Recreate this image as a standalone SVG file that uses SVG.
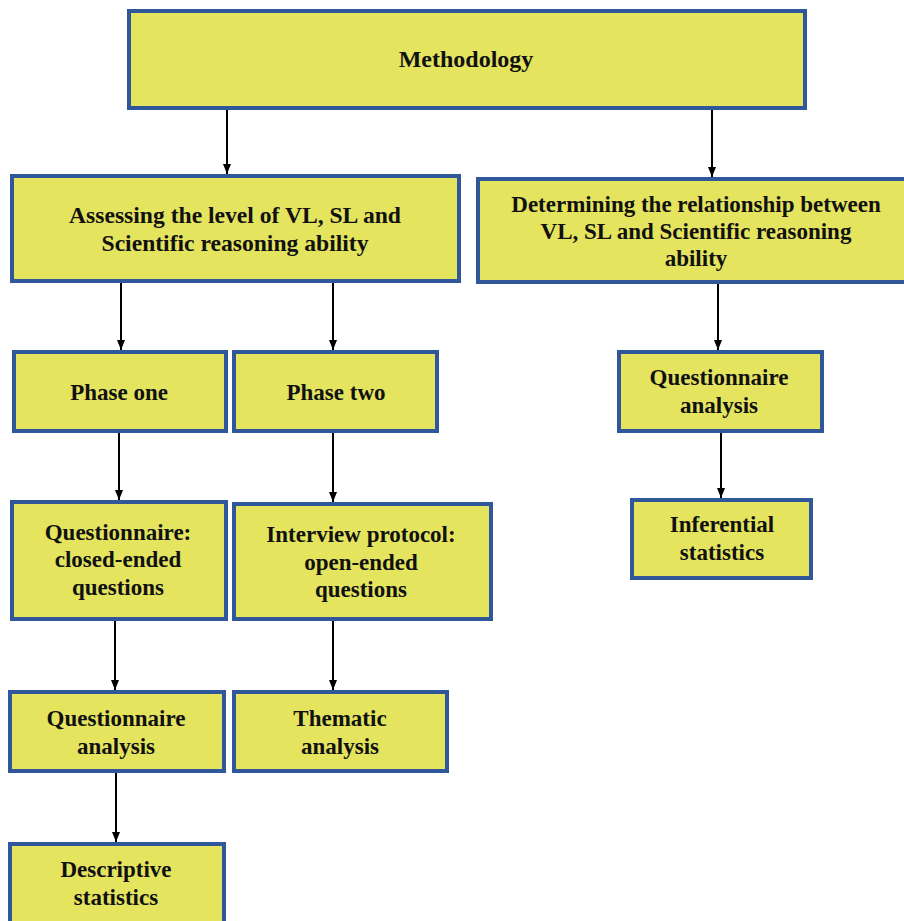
<svg xmlns="http://www.w3.org/2000/svg" width="904" height="921" viewBox="0 0 904 921">
  <style>
    .box { fill: #e4e45f; stroke: #30579a; stroke-width: 4; }
    .lbl { font-family: "Liberation Serif", "Times New Roman", serif; font-size: 23px; font-weight: bold; fill: #111; text-anchor: middle; }
    .title { font-size: 24px; }
    .wide { font-size: 23.6px; }
    .edge { stroke: #000; stroke-width: 2; fill: none; marker-end: url(#arrow); }
  </style>
  <defs>
    <marker id="arrow" markerUnits="userSpaceOnUse" markerWidth="10" markerHeight="10" viewBox="0 0 10 10" refX="10" refY="5" orient="auto">
      <path d="M0,1 L10,5 L0,9 Z" fill="#000"/>
    </marker>
  </defs>
  <rect width="904" height="921" fill="#fff"/>

  <!-- connectors -->
  <g id="connectors">
    <line class="edge" x1="227" y1="110" x2="227" y2="174"/>
    <line class="edge" x1="712" y1="110" x2="712" y2="177"/>
    <line class="edge" x1="121" y1="283" x2="121" y2="350"/>
    <line class="edge" x1="333" y1="283" x2="333" y2="350"/>
    <line class="edge" x1="718" y1="284" x2="718" y2="350"/>
    <line class="edge" x1="119" y1="433" x2="119" y2="500"/>
    <line class="edge" x1="333" y1="433" x2="333" y2="502"/>
    <line class="edge" x1="721" y1="433" x2="721" y2="498"/>
    <line class="edge" x1="115" y1="621" x2="115" y2="690"/>
    <line class="edge" x1="333" y1="621" x2="333" y2="690"/>
    <line class="edge" x1="116" y1="773" x2="116" y2="842"/>
  </g>

  <g id="methodology">
    <rect class="box" x="129" y="11" width="676" height="97"/>
    <text class="lbl title" x="466" y="67">Methodology</text>
  </g>

  <g id="assessing">
    <rect class="box" x="12" y="176" width="447" height="105"/>
    <text class="lbl wide" x="235" y="223">Assessing the level of VL, SL and</text>
    <text class="lbl wide" x="235" y="251">Scientific reasoning ability</text>
  </g>

  <g id="determining">
    <rect class="box" x="478" y="179" width="440" height="103"/>
    <text class="lbl" x="696" y="212">Determining the relationship between</text>
    <text class="lbl" x="696" y="239">VL, SL and Scientific reasoning</text>
    <text class="lbl" x="696" y="266">ability</text>
  </g>

  <g id="phase-one">
    <rect class="box" x="14" y="352" width="212" height="79"/>
    <text class="lbl" x="119" y="400">Phase one</text>
  </g>

  <g id="phase-two">
    <rect class="box" x="234" y="352" width="203" height="79"/>
    <text class="lbl" x="336" y="400">Phase two</text>
  </g>

  <g id="questionnaire-closed">
    <rect class="box" x="12" y="502" width="214" height="117"/>
    <text class="lbl" x="118" y="540">Questionnaire:</text>
    <text class="lbl" x="118" y="567">closed-ended</text>
    <text class="lbl" x="118" y="595">questions</text>
  </g>

  <g id="interview-protocol">
    <rect class="box" x="234" y="504" width="257" height="115"/>
    <text class="lbl" x="361" y="542">Interview protocol:</text>
    <text class="lbl" x="361" y="570">open-ended</text>
    <text class="lbl" x="361" y="597">questions</text>
  </g>

  <g id="questionnaire-analysis-left">
    <rect class="box" x="10" y="692" width="214" height="79"/>
    <text class="lbl" x="116" y="726">Questionnaire</text>
    <text class="lbl" x="116" y="754">analysis</text>
  </g>

  <g id="thematic-analysis">
    <rect class="box" x="234" y="692" width="213" height="79"/>
    <text class="lbl" x="340" y="726">Thematic</text>
    <text class="lbl" x="340" y="754">analysis</text>
  </g>

  <g id="descriptive-statistics">
    <rect class="box" x="10" y="844" width="214" height="85"/>
    <text class="lbl" x="116" y="877">Descriptive</text>
    <text class="lbl" x="116" y="905">statistics</text>
  </g>

  <g id="questionnaire-analysis-right">
    <rect class="box" x="619" y="352" width="203" height="79"/>
    <text class="lbl" x="719" y="385">Questionnaire</text>
    <text class="lbl" x="719" y="413">analysis</text>
  </g>

  <g id="inferential-statistics">
    <rect class="box" x="632" y="500" width="179" height="78"/>
    <text class="lbl" x="722" y="532">Inferential</text>
    <text class="lbl" x="722" y="560">statistics</text>
  </g>
</svg>
